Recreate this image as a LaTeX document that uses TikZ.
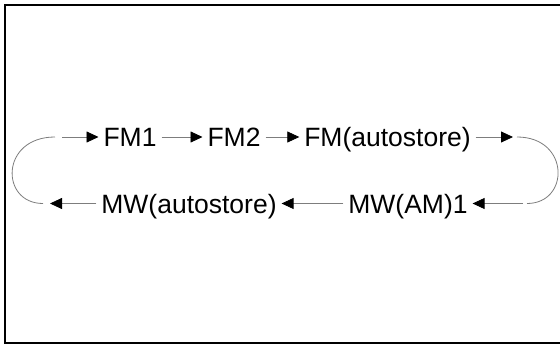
\documentclass[tikz,border=0pt]{standalone}
\usepackage{fontspec}
\setmainfont{Liberation Sans}
\usepackage{tikz}
\usetikzlibrary{arrows.meta,positioning,calc}

\definecolor{linegray}{RGB}{125,125,125}

\begin{document}
\begin{tikzpicture}[x=1pt,y=-1pt,
        lbl/.style={inner sep=0pt,outer sep=5pt,text height=19pt,text depth=0pt,
            font=\fontsize{26.5}{30}\selectfont},
        flow/.style={-{Triangle[length=12pt,width=11pt,color=black]},draw=linegray,line width=0.8pt},
        loopline/.style={draw=linegray,line width=0.8pt}]
        \useasboundingbox (0,0) rectangle (560,345);

        %%%% Frame ======================================
        \draw[line width=2pt] (560,5) -- (5,5) -- (5,343) -- (560,343);

        % Labels
        \node[lbl] (fm1) at (130, 137) {FM1};
        \node[lbl] (fm2) at (234, 137) {FM2};
        \node[lbl] (fmauto) at (387.5, 137) {FM(autostore)};
        \node[lbl] (mwam) at (408, 203.5) {MW(AM)1};
        \node[lbl] (mwauto) at (189, 203.5) {MW(autostore)};

        % Loose ends
        \coordinate (inTop) at (62, 137);
        \coordinate (outTop) at (513, 137);
        \coordinate (inBot) at (523, 203.5);
        \coordinate (outBot) at (50, 203.5);
        \coordinate (rtA) at (517, 137);
        \coordinate (rtB) at (527, 203.5);
        \coordinate (ltA) at (43, 203.5);
        \coordinate (ltB) at (55, 137);

        % Arcs
        \draw[flow] (inTop) -- (fm1);
        \draw[flow] (fm1) -- (fm2);
        \draw[flow] (fm2) -- (fmauto);
        \draw[flow] (fmauto) -- (outTop);
        \draw[flow] (inBot) -- (mwam);
        \draw[flow] (mwam) -- (mwauto);
        \draw[flow] (mwauto) -- (outBot);

        % Turns
        \draw[loopline] (rtA) .. controls (570, 137) and (570, 203.5) .. (rtB);
        \draw[loopline] (ltA) .. controls (0, 203.5) and (0, 137) .. (ltB);
    \end{tikzpicture}
\end{document}
